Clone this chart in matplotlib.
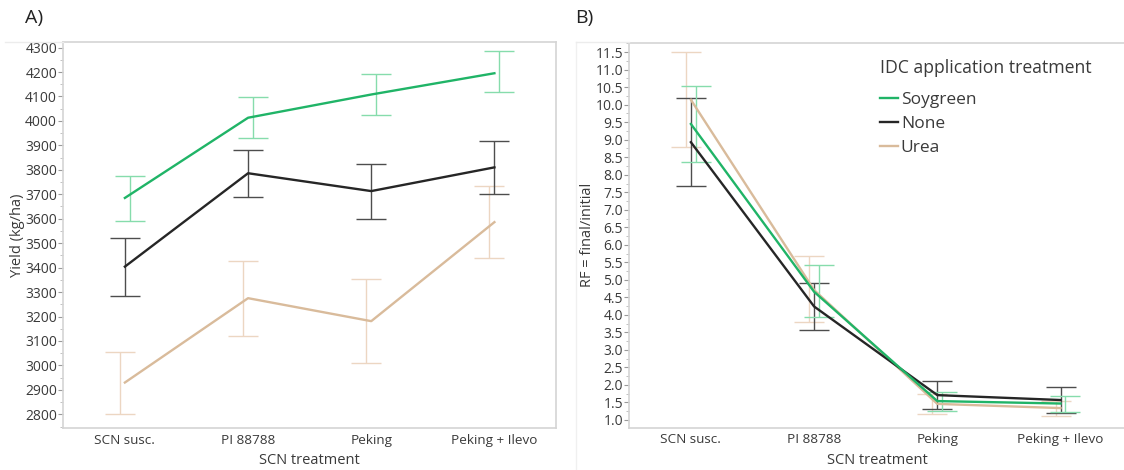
import matplotlib
matplotlib.use('Agg')
import matplotlib.pyplot as plt
from matplotlib.lines import Line2D
from matplotlib.ticker import MultipleLocator, FormatStrFormatter

plt.rcParams['font.family'] = ['Open Sans', 'DejaVu Sans']

# categories
treatments = ['SCN susc.', 'PI 88788', 'Peking', 'Peking + Ilevo']
series = ['Soygreen', 'None', 'Urea']

# A) yield (kg/ha): mean, lower, upper
yield_soy = [3685, 4013, 4108, 4195]
yield_soy_lo = [3591, 3929, 4023, 4119]
yield_soy_hi = [3776, 4097, 4192, 4286]
yield_none = [3404, 3786, 3713, 3810]
yield_none_lo = [3285, 3689, 3600, 3701]
yield_none_hi = [3522, 3882, 3823, 3919]
yield_urea = [2930, 3275, 3181, 3586]
yield_urea_lo = [2800, 3120, 3008, 3439]
yield_urea_hi = [3054, 3427, 3353, 3733]

# B) RF = final/initial: mean, lower, upper
rf_soy = [9.45, 4.66, 1.54, 1.47]
rf_soy_lo = [8.36, 3.94, 1.27, 1.24]
rf_soy_hi = [10.54, 5.43, 1.81, 1.69]
rf_none = [8.93, 4.24, 1.71, 1.57]
rf_none_lo = [7.68, 3.56, 1.31, 1.19]
rf_none_hi = [10.20, 4.91, 2.10, 1.95]
rf_urea = [10.14, 4.71, 1.46, 1.34]
rf_urea_lo = [8.79, 3.80, 1.17, 1.12]
rf_urea_hi = [11.50, 5.67, 1.73, 1.55]

line_col = {'Soygreen': '#20b467', 'None': '#262626', 'Urea': '#d9bb9b'}
err_col = {'Soygreen': '#86dcac', 'None': '#4d4d4d', 'Urea': '#ecd6c2'}
offset = {'Soygreen': 0.04, 'None': 0.0, 'Urea': -0.04}

frame_col = '#d4d4d4'
text_col = '#3a3a3a'

W, H = 1124, 470
fig = plt.figure(figsize=(W / 100, H / 100), dpi=100)
axA = fig.add_axes([63.3 / W, (H - 428) / H, 492.7 / W, (428 - 41.7) / H])
axB = fig.add_axes([629.3 / W, (H - 427.7) / H, 496 / W, (427.7 - 42.7) / H])

xs = [0.5, 1.5, 2.5, 3.5]


def draw(ax, data):
    for name in ['Urea', 'None', 'Soygreen']:
        m, lo, hi = data[name]
        ex = [x + offset[name] for x in xs]
        yerr = [[a - b for a, b in zip(m, lo)], [b - a for a, b in zip(m, hi)]]
        ax.errorbar(ex, m, yerr=yerr, fmt='none', ecolor=err_col[name],
                    elinewidth=1.0, capsize=11, capthick=1.0, zorder=2)
    for name in ['Urea', 'None', 'Soygreen']:
        ax.plot(xs, data[name][0], color=line_col[name], lw=1.7, zorder=3,
                label=name)
    ax.set_xlim(0, 4)
    ax.set_xticks(xs)
    ax.set_xticklabels(treatments, fontsize=9.7, color=text_col)
    ax.tick_params(axis='x', length=0, pad=4)
    ax.tick_params(axis='y', which='major', length=3.5, width=0.8,
                   color='#9a9a9a', pad=1, labelsize=10, labelcolor=text_col)
    ax.tick_params(axis='y', which='minor', length=2, width=0.6,
                   color='#b8b8b8')
    for s in ax.spines.values():
        s.set_color(frame_col)
        s.set_linewidth(1.2)
    ax.set_xlabel('SCN treatment', fontsize=10.5, color=text_col, labelpad=5)


draw(axA, {'Soygreen': (yield_soy, yield_soy_lo, yield_soy_hi),
           'None': (yield_none, yield_none_lo, yield_none_hi),
           'Urea': (yield_urea, yield_urea_lo, yield_urea_hi)})
axA.set_ylim(2744, 4324)
axA.yaxis.set_major_locator(MultipleLocator(100))
axA.yaxis.set_minor_locator(MultipleLocator(50))
axA.set_ylabel('Yield (kg/ha)', fontsize=10.5, color=text_col, labelpad=0)

draw(axB, {'Soygreen': (rf_soy, rf_soy_lo, rf_soy_hi),
           'None': (rf_none, rf_none_lo, rf_none_hi),
           'Urea': (rf_urea, rf_urea_lo, rf_urea_hi)})
axB.set_xlim(0, 496 / 123.2)
axB.set_ylim(0.78, 11.77)
axB.yaxis.set_major_locator(MultipleLocator(0.5))
axB.yaxis.set_minor_locator(MultipleLocator(0.25))
axB.yaxis.set_major_formatter(FormatStrFormatter('%.1f'))
axB.spines['right'].set_visible(False)
axB.set_ylabel('RF = final/initial', fontsize=10.5, color=text_col, labelpad=0)

# legend: title as its own text, entries below
fig.text(880 / W, 1 - 68 / H, 'IDC application treatment', fontsize=12.7,
         color=text_col, va='center', ha='left')
handles = [Line2D([], [], color=line_col[n], lw=1.7) for n in series]
leg = axB.legend(handles, series, loc='upper left',
                 bbox_to_anchor=(880 / W, 1 - 92 / H),
                 bbox_transform=fig.transFigure, frameon=False, fontsize=12.5,
                 handlelength=1.05, handletextpad=0.15,
                 labelspacing=0.45, borderpad=0, borderaxespad=0)
for t in leg.get_texts():
    t.set_color(text_col)

fig.text(25 / W, 1 - 18 / H, 'A)', fontsize=14, color='#222222', va='center')
fig.text(575 / W, 1 - 18 / H, 'B)', fontsize=14, color='#222222', va='center')

# faint outer frames of the original layout
fig.add_artist(Line2D([5 / W, 63 / W], [1 - 41.7 / H] * 2, color='#ececec', lw=1))
fig.add_artist(Line2D([576 / W, 576 / W], [0, 1 - 42 / H], color='#f0f0f0', lw=1))
fig.add_artist(Line2D([576 / W, 629 / W], [1 - 42 / H] * 2, color='#ececec', lw=1))

fig.savefig('out.png', dpi=100)
